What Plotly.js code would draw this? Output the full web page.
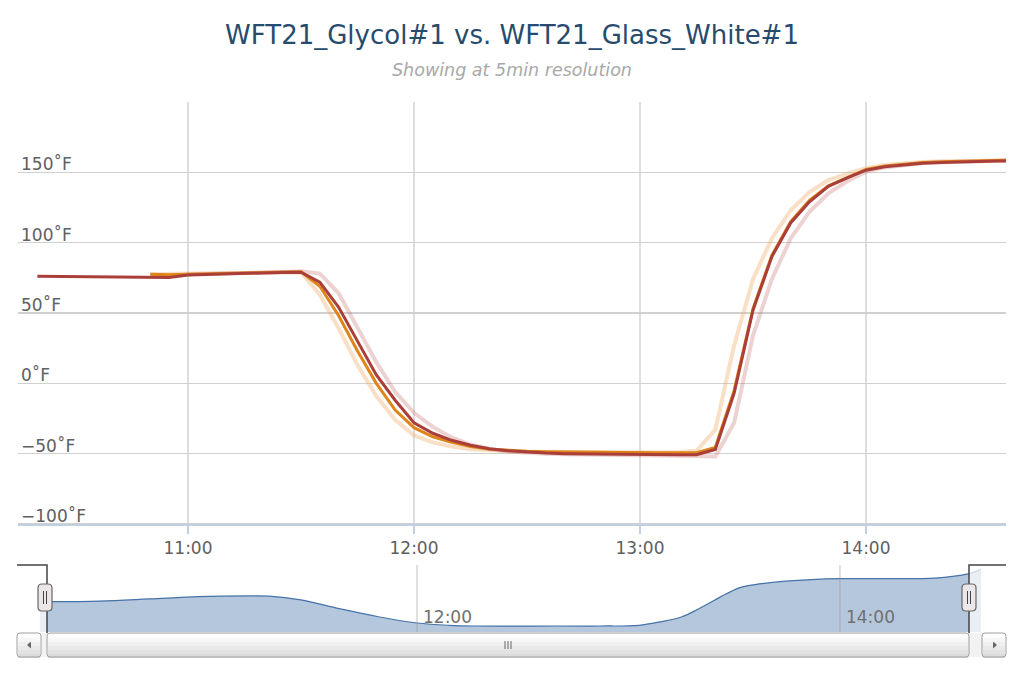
<!DOCTYPE html>
<html><head><meta charset="utf-8">
<script src="https://cdn.plot.ly/plotly-3.0.1.min.js"></script>
<style>html,body{margin:0;padding:0;background:#fff;} #chart{width:1024px;height:682px;}</style>
</head><body><div id="chart"></div>
<script>
const DAY = '2014-03-12 ';
const titleText = 'WFT21_Glycol#1 vs. WFT21_Glass_White#1';
const subtitleText = 'Showing at 5min resolution';

const mainTimes = ['10:20','10:25','10:30','10:35','10:40','10:45','10:50','10:55',
 '11:00','11:05','11:10','11:15','11:20','11:25','11:30','11:35','11:40','11:45','11:50','11:55',
 '12:00','12:05','12:10','12:15','12:20','12:25','12:30','12:35','12:40','12:45','12:50','12:55',
 '13:00','13:05','13:10','13:15','13:20','13:25','13:30','13:35','13:40','13:45','13:50','13:55',
 '14:00','14:05','14:10','14:15','14:20','14:25','14:30','14:35','14:40'];
const redValues = [76.2,76.0,75.8,75.6,75.4,75.3,75.2,75.3,
 77.0,77.5,77.9,78.2,78.5,78.8,79.0,72.0,54.0,30.0,6.0,-12.0,
 -28.0,-35.5,-40.5,-44.0,-46.5,-48.0,-49.0,-49.6,-50.0,-50.2,-50.4,-50.5,
 -50.6,-50.7,-50.8,-50.8,-47.0,-7.0,52.0,90.0,114.0,129.0,140.0,146.0,
 151.5,154.0,155.5,156.5,157.0,157.5,157.8,158.0,158.2];
const orangeTimes = mainTimes.slice(6);
const orangeValues = [77.5,77.2,
 77.6,78.0,78.3,78.6,78.9,79.1,79.3,69.0,48.0,23.0,0.0,-19.0,
 -31.5,-38.0,-42.0,-45.0,-46.8,-47.8,-48.3,-48.6,-48.8,-49.0,-49.1,-49.2,
 -49.2,-49.3,-49.3,-49.3,-45.5,-5.0,53.0,91.0,115.0,130.0,140.5,146.5,
 152.0,154.5,156.0,157.0,157.5,158.0,158.3,158.5,158.6];
const leadValues = [77.5,77.5,
 77.8,78.2,78.5,78.8,79.0,79.2,79.0,63.0,39.0,13.0,-9.0,-26.0,
 -37.0,-42.0,-45.0,-46.8,-47.8,-48.3,-48.6,-48.8,-49.0,-49.0,-49.0,-49.0,
 -49.0,-49.0,-49.0,-48.0,-33.0,27.0,74.0,103.0,123.0,136.0,144.5,149.0,
 153.0,155.2,156.5,157.3,157.8,158.2,158.4,158.6,158.7];
const lagValues = [77.0,76.5,
 77.3,77.8,78.2,78.5,78.8,79.2,79.6,78.0,64.0,40.0,15.0,-6.0,
 -21.0,-31.0,-38.5,-43.5,-46.5,-48.5,-49.5,-50.0,-50.5,-50.8,-51.0,-51.0,
 -51.2,-51.3,-51.4,-51.5,-52.0,-28.0,34.0,74.0,103.0,122.0,135.0,143.6,
 150.5,153.5,155.3,156.5,157.2,157.8,158.1,158.3,158.5];

const navTimes = ['10:13','10:15','10:30','10:44','10:58','11:12','11:18','11:27','11:38','11:49',
 '12:00','12:09','12:16','12:40','12:52','13:03','13:09','13:15','13:20','13:26','13:31','13:34',
 '13:43','13:52','14:00','14:27','14:33','14:37','14:40'];
const navValues = [55,55,58,67,77,80,79,63,25,-10,
 -37,-47,-50,-50,-50,-47,-32,-11,25,75,113,125,
 142,151,155,157,167,178,196];
const navTickTimes = ['12:00','14:00'];

const yTickVals = [-100,-50,0,50,100,150,200];
const yTickText = ['\u2212100˚F','\u221250˚F','0˚F','50˚F','100˚F','150˚F',''];

const T = a => a.map(s => DAY + s + ':00');
const W = 1024, H = 682;
const px = x => x / W, py = y => 1 - y / H;
const FONT = 'DejaVu Sans, Verdana, sans-serif';
const YMIN = -104, YMAX = 200;
const yBottomPx = 102 + (YMAX - YMIN) * (422 / 300);

function rr(x0, y0, x1, y1, r) {
  return `M${px(x0+r)},${py(y0)} L${px(x1-r)},${py(y0)} Q${px(x1)},${py(y0)} ${px(x1)},${py(y0+r)} ` +
    `L${px(x1)},${py(y1-r)} Q${px(x1)},${py(y1)} ${px(x1-r)},${py(y1)} L${px(x0+r)},${py(y1)} ` +
    `Q${px(x0)},${py(y1)} ${px(x0)},${py(y1-r)} L${px(x0)},${py(y0+r)} Q${px(x0)},${py(y0)} ${px(x0+r)},${py(y0)} Z`;
}
function pathPx(pts) {
  return pts.map((p, i) => (i ? 'L' : 'M') + px(p[0]) + ',' + py(p[1])).join(' ');
}
const shapes = [];
const P = (path, line, fill) => shapes.push({type: 'path', xref: 'paper', yref: 'paper', path, layer: 'above',
  line: line || {width: 0}, fillcolor: fill || 'rgba(0,0,0,0)'});
const R = (x0, y0, x1, y1, fill) => shapes.push({type: 'rect', xref: 'paper', yref: 'paper', layer: 'above',
  x0: px(x0), x1: px(x1), y0: py(y0), y1: py(y1), line: {width: 0}, fillcolor: fill});

// navigator grid lines drawn above the area
T(navTickTimes).forEach(t => shapes.push({type: 'line', xref: 'x2', yref: 'paper', layer: 'above',
  x0: t, x1: t, y0: py(632), y1: py(565), line: {color: 'rgba(150,150,150,0.6)', width: 1}}));
// navigator masks
R(17, 565, 47, 632, 'rgba(255,255,255,0.72)');
R(969, 565, 1006, 632, 'rgba(255,255,255,0.72)');
// scrollbar track
R(41, 633, 983, 657, '#f2f2f2');
// thumb gradient
const grad = ['#fdfdfd','#f7f7f7','#f0f0f0','#e9e9e9','#e2e2e2','#dcdcdc'];
grad.forEach((c, i) => R(48, 634 + i * 4, 968, 634 + (i + 1) * 4, c));
P(rr(47, 633, 969, 657, 3), {color: '#a0a0a0', width: 1});
// grip
[505, 508, 511].forEach(x => P(pathPx([[x, 641], [x, 649]]), {color: '#666', width: 1}));
// buttons
[[17, 41], [982, 1006]].forEach(([a, b]) => {
  grad.forEach((c, i) => R(a + 1, 634 + i * 4, b - 1, 634 + (i + 1) * 4, c));
  P(rr(a, 633, b, 657, 3), {color: '#a0a0a0', width: 1});
});
P(pathPx([[27, 645], [31, 641.5], [31, 648.5]]) + ' Z', {width: 0}, '#666');
P(pathPx([[997, 645], [993, 641.5], [993, 648.5]]) + ' Z', {width: 0}, '#666');
// navigator outline
P(pathPx([[17, 565], [47, 565], [47, 633]]), {color: '#444', width: 1.5});
P(pathPx([[969, 633], [969, 565], [1006, 565]]), {color: '#444', width: 1.5});
// handles
[[38, 52], [962, 976]].forEach(([a, b]) => {
  P(rr(a, 584, b, 611, 4), {color: '#666', width: 1.2}, '#ebe7e8');
  const c = (a + b) / 2;
  P(pathPx([[c - 1.5, 591], [c - 1.5, 604]]), {color: '#444', width: 1});
  P(pathPx([[c + 1.5, 591], [c + 1.5, 604]]), {color: '#444', width: 1});
});

const data = [
  {x: T(orangeTimes), y: leadValues, type: 'scatter', mode: 'lines', line: {color: 'rgba(240,170,105,0.38)', width: 4}, xaxis: 'x', yaxis: 'y'},
  {x: T(orangeTimes), y: lagValues, type: 'scatter', mode: 'lines', line: {color: 'rgba(195,105,105,0.3)', width: 4}, xaxis: 'x', yaxis: 'y'},
  {x: T(orangeTimes), y: orangeValues, type: 'scatter', mode: 'lines', line: {color: '#DF8419', width: 3}, xaxis: 'x', yaxis: 'y'},
  {x: T(mainTimes), y: redValues, type: 'scatter', mode: 'lines', line: {color: '#AA3F3A', width: 3}, xaxis: 'x', yaxis: 'y'},
  {x: T([navTimes[0], navTimes[navTimes.length - 1]]), y: [-76, -76], type: 'scatter', mode: 'lines', line: {width: 0, color: 'rgba(0,0,0,0)'}, xaxis: 'x2', yaxis: 'y2'},
  {x: T(navTimes), y: navValues, type: 'scatter', mode: 'lines', line: {color: '#4572A7', width: 1.2, shape: 'spline', smoothing: 1}, fill: 'tonexty', fillcolor: 'rgb(181,199,220)', xaxis: 'x2', yaxis: 'y2'}
];

const layout = {
  width: W, height: H, autosize: false,
  margin: {l: 0, r: 0, t: 0, b: 0, pad: 0},
  paper_bgcolor: '#fff', plot_bgcolor: 'rgba(0,0,0,0)',
  showlegend: false, hovermode: false,
  font: {family: FONT, color: '#606060', size: 17},
  title: {text: titleText, x: 0.5, xanchor: 'center', y: 1 - 35 / H, yanchor: 'middle',
    font: {family: FONT, size: 26, color: '#274b6d'}},
  annotations: [{text: subtitleText, xref: 'paper', yref: 'paper', x: 0.5, y: 1 - 70 / H,
    xanchor: 'center', yanchor: 'middle', showarrow: false,
    font: {family: FONT, size: 17.5, color: '#a8a8a8', style: 'italic'}}],
  xaxis: {type: 'date', domain: [px(18), px(1006)], anchor: 'free', position: py(524),
    range: [DAY + '10:14:52', DAY + '14:37:10'],
    tickformat: '%H:%M', dtick: 3600000, tick0: DAY + '11:00:00',
    showgrid: true, gridcolor: '#dedede', gridwidth: 1.5,
    showline: true, linecolor: '#C0D0E0', linewidth: 1.5,
    ticks: 'outside', ticklen: 8, tickcolor: '#C0D0E0', tickwidth: 1.5,
    tickfont: {size: 17, color: '#606060'}, zeroline: false, fixedrange: true},
  yaxis: {domain: [py(yBottomPx), py(102)], anchor: 'x', range: [YMIN, YMAX],
    tickvals: yTickVals, ticktext: yTickText,
    showgrid: true, gridcolor: '#d0d0d0', gridwidth: 1.5, zeroline: false,
    showline: false, ticks: '', ticklabelposition: 'inside top', ticklabelshift: 4,
    tickfont: {size: 17, color: '#606060'}, fixedrange: true},
  xaxis2: {type: 'date', domain: [px(17), px(1006)], anchor: 'y2',
    range: [DAY + '10:06:31', DAY + '14:47:06'],
    tickmode: 'array', tickvals: T(navTickTimes), ticktext: navTickTimes,
    showgrid: false, showline: false, ticks: '',
    ticklabelposition: 'inside right', ticklabelshift: 6, tickfont: {size: 17, color: '#707070'},
    zeroline: false, fixedrange: true},
  yaxis2: {domain: [py(632), py(565)], anchor: 'x2', range: [-76, 214],
    showgrid: false, showticklabels: false, zeroline: false, ticks: '', fixedrange: true},
  shapes
};
Plotly.newPlot('chart', data, layout, {staticPlot: true, displayModeBar: false});
</script></body></html>
